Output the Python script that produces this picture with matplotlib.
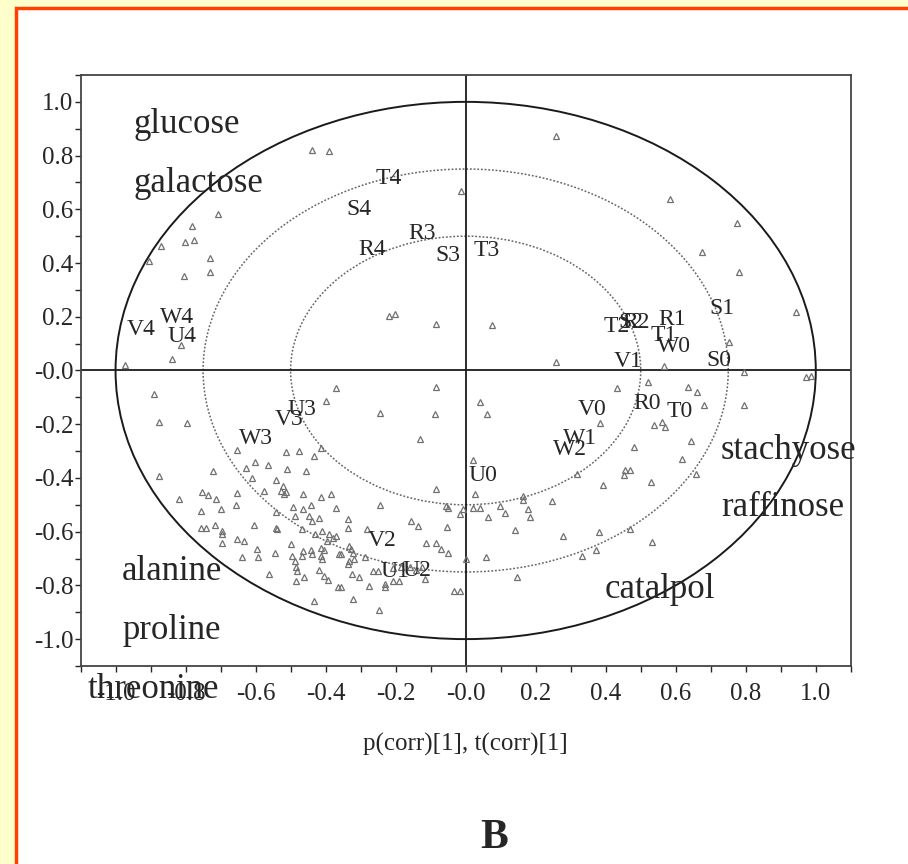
import matplotlib
matplotlib.use('Agg')
import matplotlib.pyplot as plt
from matplotlib.patches import Ellipse, Rectangle
from matplotlib.ticker import MultipleLocator, FuncFormatter

plt.rcParams['font.family'] = ['Liberation Serif', 'DejaVu Serif']

# score / loading points, by quadrant
upper_left = [(-0.439, 0.822), (-0.390, 0.816), (-0.708, 0.581), (-0.781, 0.538),
              (-0.869, 0.464), (-0.803, 0.480), (-0.777, 0.486), (-0.731, 0.417),
              (-0.904, 0.409), (-0.804, 0.351), (-0.731, 0.368), (-0.972, 0.022),
              (-0.839, 0.044), (-0.813, 0.094), (-0.220, 0.202), (-0.201, 0.209),
              (-0.084, 0.172), (-0.014, 0.670)]
upper_right = [(0.257, 0.874), (0.585, 0.637), (0.776, 0.548), (0.676, 0.440),
               (0.780, 0.365), (0.944, 0.217), (0.074, 0.170), (0.258, 0.031),
               (0.567, 0.017), (0.753, 0.106), (0.971, -0.023), (0.986, -0.021)]
lower_right = [(0.522, -0.042), (0.432, -0.067), (0.634, -0.060), (0.661, -0.081),
               (0.680, -0.128), (0.795, -0.128), (0.795, -0.005), (0.040, -0.116),
               (0.061, -0.163), (0.384, -0.196), (0.537, -0.202), (0.561, -0.190),
               (0.570, -0.212), (0.644, -0.264), (0.482, -0.286), (0.618, -0.328),
               (0.659, -0.385), (0.456, -0.369), (0.470, -0.369), (0.451, -0.388),
               (0.530, -0.415), (0.393, -0.427), (0.317, -0.385), (0.021, -0.332),
               (0.026, -0.459), (0.164, -0.468), (0.164, -0.484), (0.248, -0.486),
               (0.097, -0.505), (0.112, -0.530), (0.179, -0.514), (0.183, -0.546),
               (0.064, -0.546), (0.021, -0.511), (0.040, -0.511), (0.140, -0.594),
               (0.277, -0.616), (0.382, -0.600), (0.470, -0.591), (0.532, -0.637),
               (0.331, -0.690), (0.372, -0.669), (0.059, -0.696), (0.000, -0.702),
               (0.147, -0.770)]
lower_left = [(-0.891, -0.089), (-0.875, -0.193), (-0.796, -0.196), (-0.877, -0.394),
              (-0.371, -0.067), (-0.399, -0.114), (-0.245, -0.157), (-0.084, -0.063),
              (-0.087, -0.163), (-0.130, -0.254), (-0.414, -0.289), (-0.433, -0.320),
              (-0.476, -0.299), (-0.514, -0.304), (-0.652, -0.295), (-0.628, -0.363),
              (-0.602, -0.342), (-0.566, -0.351), (-0.611, -0.400), (-0.511, -0.367),
              (-0.457, -0.375), (-0.543, -0.406), (-0.523, -0.431), (-0.528, -0.449),
              (-0.519, -0.459), (-0.514, -0.452), (-0.576, -0.447), (-0.652, -0.456),
              (-0.753, -0.452), (-0.736, -0.465), (-0.722, -0.375), (-0.819, -0.478),
              (-0.755, -0.523), (-0.712, -0.478), (-0.700, -0.517), (-0.655, -0.501),
              (-0.541, -0.527), (-0.464, -0.459), (-0.442, -0.499), (-0.414, -0.470),
              (-0.385, -0.458), (-0.371, -0.511), (-0.492, -0.509), (-0.487, -0.542),
              (-0.466, -0.517), (-0.447, -0.542), (-0.439, -0.560), (-0.418, -0.548),
              (-0.755, -0.585), (-0.743, -0.585), (-0.717, -0.577), (-0.695, -0.598),
              (-0.697, -0.610), (-0.695, -0.644), (-0.652, -0.628), (-0.633, -0.635),
              (-0.604, -0.575), (-0.543, -0.588), (-0.538, -0.591), (-0.468, -0.591),
              (-0.430, -0.610), (-0.409, -0.598), (-0.390, -0.610), (-0.380, -0.622),
              (-0.371, -0.616), (-0.396, -0.635), (-0.414, -0.659), (-0.404, -0.669),
              (-0.335, -0.554), (-0.335, -0.585), (-0.332, -0.653), (-0.282, -0.591),
              (-0.246, -0.499), (-0.156, -0.560), (-0.137, -0.579), (-0.086, -0.443),
              (-0.055, -0.505), (-0.051, -0.511), (-0.053, -0.583), (-0.017, -0.536),
              (-0.008, -0.517), (-0.595, -0.665), (-0.592, -0.696), (-0.544, -0.681),
              (-0.500, -0.647), (-0.495, -0.690), (-0.487, -0.709), (-0.466, -0.672),
              (-0.468, -0.690), (-0.442, -0.669), (-0.439, -0.684), (-0.414, -0.690),
              (-0.411, -0.702), (-0.361, -0.684), (-0.356, -0.684), (-0.328, -0.665),
              (-0.323, -0.678), (-0.318, -0.702), (-0.332, -0.709), (-0.337, -0.721),
              (-0.287, -0.696), (-0.266, -0.746), (-0.251, -0.746), (-0.229, -0.795),
              (-0.229, -0.807), (-0.208, -0.783), (-0.189, -0.783), (-0.113, -0.641),
              (-0.084, -0.641), (-0.070, -0.665), (-0.051, -0.678), (-0.032, -0.820),
              (-0.017, -0.822), (-0.638, -0.694), (-0.562, -0.756), (-0.485, -0.733),
              (-0.483, -0.748), (-0.461, -0.768), (-0.485, -0.783), (-0.418, -0.743),
              (-0.404, -0.764), (-0.394, -0.780), (-0.366, -0.807), (-0.356, -0.807),
              (-0.325, -0.758), (-0.304, -0.768), (-0.275, -0.801), (-0.323, -0.851),
              (-0.433, -0.859), (-0.248, -0.891), (-0.160, -0.733), (-0.141, -0.743),
              (-0.117, -0.777), (-0.124, -0.733), (-0.208, -0.737), (-0.184, -0.731)]

# sample labels
sample_names = ['T4', 'S4', 'R4', 'R3', 'S3', 'T3', 'V4', 'W4', 'U4',
                'S1', 'T2', 'S2', 'R2', 'R1', 'T1', 'W0', 'V1', 'S0',
                'U3', 'V3', 'W3', 'V2', 'U1', 'U2',
                'V0', 'R0', 'T0', 'W1', 'W2', 'U0']
sample_x = [-0.220, -0.304, -0.267, -0.124, -0.051, 0.061, -0.926, -0.824, -0.810,
            0.733, 0.432, 0.472, 0.487, 0.589, 0.567, 0.594, 0.465, 0.723,
            -0.468, -0.504, -0.600, -0.239, -0.203, -0.139,
            0.360, 0.518, 0.611, 0.327, 0.298, 0.048]
sample_y = [0.714, 0.598, 0.449, 0.511, 0.427, 0.446, 0.153, 0.199, 0.125,
            0.232, 0.162, 0.180, 0.180, 0.190, 0.131, 0.090, 0.035, 0.038,
            -0.147, -0.184, -0.254, -0.632, -0.748, -0.746,
            -0.147, -0.122, -0.153, -0.252, -0.293, -0.390]

# metabolite labels
compounds = ['glucose', 'galactose', 'alanine', 'proline', 'threonine',
             'stachyose', 'raffinose', 'catalpol']
comp_x = [-0.796, -0.764, -0.838, -0.840, -0.891, 0.923, 0.907, 0.556]
comp_y = [0.915, 0.696, -0.748, -0.968, -1.189, -0.299, -0.511, -0.814]

# R2X-type ellipses
radii = [1.0, 0.75, 0.5]

ink = '#262626'

fig = plt.figure(figsize=(9.08, 8.64), dpi=100, facecolor='#FFFFCC')
panel = Rectangle((16 / 908, -0.02), 1.0, 1.02 - 8 / 864, transform=fig.transFigure,
                  facecolor='white', edgecolor='#FF4000', linewidth=2.5, zorder=-10)
fig.patches.append(panel)

ax = fig.add_axes([0.0887, 0.2292, 0.8483, 0.684])
ax.set_zorder(5)
ax.set_facecolor('white')
ax.set_xlim(-1.1, 1.1)
ax.set_ylim(-1.1, 1.1)

for r in radii:
    if r == 1.0:
        e = Ellipse((0, 0), 2 * r, 2 * r, fill=False, edgecolor='#1a1a1a', linewidth=1.4)
    else:
        e = Ellipse((0, 0), 2 * r, 2 * r, fill=False, edgecolor='#666666',
                    linewidth=1.1, linestyle=(0, (1.2, 1.2)))
    ax.add_patch(e)

ax.axhline(0, color='#1a1a1a', linewidth=1.3)
ax.axvline(0, color='#1a1a1a', linewidth=1.3)

for grp in [upper_left, upper_right, lower_right, lower_left]:
    xs = [p[0] for p in grp]
    ys = [p[1] for p in grp]
    ax.plot(xs, ys, linestyle='none', marker='^', markersize=4,
            markerfacecolor='none', markeredgecolor='#707070', markeredgewidth=0.9)

for name, x, y in zip(sample_names, sample_x, sample_y):
    ax.text(x, y, name, ha='center', va='center', fontsize=17, color=ink)

for name, x, y in zip(compounds, comp_x, comp_y):
    ax.text(x, y, name, ha='center', va='center', fontsize=25, color=ink,
            clip_on=False)

fmt = FuncFormatter(lambda v, _: '-0.0' if abs(v) < 1e-9 else '%.1f' % v)
for axis in [ax.xaxis, ax.yaxis]:
    axis.set_major_locator(MultipleLocator(0.2))
    axis.set_minor_locator(MultipleLocator(0.1))
    axis.set_major_formatter(fmt)
ax.tick_params(which='both', direction='out', length=4, width=1, colors=ink,
               labelsize=18)
ax.tick_params(axis='x', pad=8)
ax.tick_params(axis='y', pad=1)
for s in ax.spines.values():
    s.set_color('#444444')
    s.set_linewidth(1.3)

ax.set_xlabel('p(corr)[1], t(corr)[1]', fontsize=18, color=ink, labelpad=20)

fig.text(0.544, 0.030, 'B', ha='center', va='center', fontsize=30,
         fontweight='bold', color=ink)

fig.savefig('out.png', dpi=100, facecolor=fig.get_facecolor())
